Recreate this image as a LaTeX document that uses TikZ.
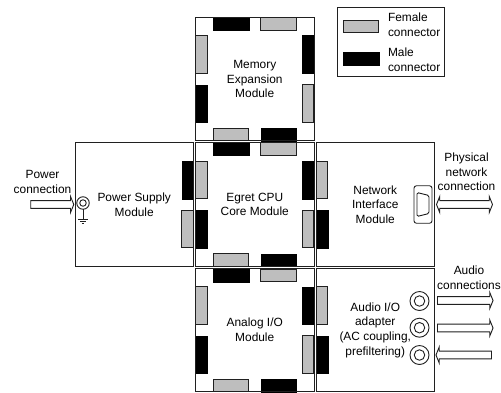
\documentclass[tikz,border=0pt]{standalone}
\usepackage{fontspec}
\setmainfont{Liberation Sans}
\usetikzlibrary{shapes.arrows}
\definecolor{femgray}{HTML}{BEBEBE}
\definecolor{edge}{HTML}{202020}
\tikzset{
  every node/.style={outer sep=0pt},
  txt/.style={align=center,inner sep=0pt,font=\fontsize{11.9}{14.7}\selectfont,text=black},
  ltxt/.style={txt,align=left,anchor=west},
  module/.style={draw=edge,line width=1pt,minimum width=118.5pt,minimum height=123.5pt,inner sep=0pt},
  fem/.style={draw=edge,line width=.8pt,fill=femgray,inner sep=0pt},
  mal/.style={draw=black,line width=.5pt,fill=black,inner sep=0pt},
  hc/.style={minimum width=35.5pt,minimum height=12.5pt},
  vc/.style={minimum width=11.5pt,minimum height=37.5pt},
  sarrow/.style={draw=edge,line width=.9pt,fill=white,single arrow,inner sep=3.4pt,
    single arrow head extend=4.2pt,single arrow tip angle=136,single arrow head indent=0pt,minimum height=#1},
  darrow/.style={draw=edge,line width=.9pt,fill=white,double arrow,inner sep=3.4pt,
    double arrow head extend=4.2pt,double arrow tip angle=136,double arrow head indent=0pt,minimum height=#1},
  ring/.style={draw=edge,line width=.9pt,circle,inner sep=0pt,minimum size=#1},
  lnk/.style={draw=edge,line width=.9pt}
}
\begin{document}
\begin{tikzpicture}[x=1pt,y=-1pt]
\useasboundingbox (0,0) rectangle (501,392);
\fill[white] (0,0) rectangle (501,392);
% legend
\node[draw=edge,line width=1pt,minimum width=106.5pt,minimum height=68.5pt,inner sep=0pt] (legend) at (390.75,41.75) {};
\node[fem,hc,minimum height=12pt] (legF) at (361,26) {};
\node[mal,hc,minimum height=13pt] (legM) at (361,59) {};
\node[ltxt] (legFt) at (388,24.5) {Female\\connector};
\node[ltxt] (legMt) at (388,59.5) {Male\\connector};
% memory connectors
\node[mal,hc] (m1) at (231,23.5) {};
\node[fem,hc] (m2) at (278.5,24) {};
\node[fem,vc] (m3) at (201.5,54.5) {};
\node[mal,vc] (m4) at (201.5,103.5) {};
\node[mal,vc] (m5) at (308,54) {};
\node[fem,vc] (m6) at (308,103.5) {};
\node[fem,hc] (m7) at (231,134.5) {};
\node[mal,hc] (m8) at (278.5,134.5) {};
% CPU connectors
\node[mal,hc] (c1) at (231,148.5) {};
\node[fem,hc] (c2) at (278.5,149) {};
\node[fem,vc] (c3) at (201.5,180) {};
\node[mal,vc] (c4) at (201.5,229) {};
\node[mal,vc] (c5) at (308,180) {};
\node[fem,vc] (c6) at (308,229) {};
\node[fem,hc] (c7) at (231,260) {};
\node[mal,hc] (c8) at (278.5,260) {};
% analog connectors
\node[mal,hc] (a1) at (231,275.5) {};
\node[fem,hc] (a2) at (278.5,275.5) {};
\node[fem,vc] (a3) at (201.5,305.5) {};
\node[mal,vc] (a4) at (201.5,354.5) {};
\node[mal,vc] (a5) at (308,305.5) {};
\node[fem,vc] (a6) at (308,354.5) {};
\node[fem,hc] (a7) at (231,385.5) {};
\node[mal,hc] (a8) at (278.5,385.5) {};
% power / network / audio connectors
\node[mal,vc] (p1) at (187.5,180) {};
\node[fem,vc] (p2) at (187.5,229) {};
\node[fem,vc] (n1) at (322,180) {};
\node[mal,vc] (n2) at (322,229) {};
\node[fem,vc] (u1) at (322,305.5) {};
\node[mal,vc] (u2) at (322,354.5) {};
% modules
\node[module,txt] (mem) at (254.75,79) {Memory\\Expansion\\Module};
\node[module,txt] (cpu) at (254.75,204.5) {Egret CPU\\Core Module};
\node[module,txt] (ana) at (254.75,330) {Analog I/O\\Module};
\node[module,txt] (psu) at (134.25,204.5) {Power Supply\\Module};
\node[module,txt] (net) at (375.25,204.5) {Network\\Interface\\Module};
\node[module,txt] (aud) at (375.25,330) {Audio I/O\\adapter\\(AC coupling,\\prefiltering)};
% power input
\node[txt] (plab) at (42.5,182) {Power\\connection};
\node[sarrow=43pt] (parr) at (51.5,204.5) {};
\node[ring=12.5pt] (pjack) at (83,203) {};
\node[ring=6.5pt] (pjin) at (83,203) {};
\coordinate (gnd) at (83,219);
\draw[lnk] (pjack.south) -- (gnd);
\draw[lnk] (78,219) -- (88,219);
\draw[lnk] (80,221.2) -- (86,221.2);
\draw[lnk] (81.8,223.2) -- (84.2,223.2);
% network connector
\node[draw=edge,line width=.9pt,rounded corners=2.5pt,minimum width=18pt,minimum height=37.5pt,inner sep=0pt] (db) at (423,204.5) {};
\draw[lnk,rounded corners=1.5pt] (417,192.5) -- (429,195.5) -- (429,213.5) -- (417,216.5) -- cycle;
\node[txt] (nlab) at (466.5,172) {Physical\\network\\connection};
\node[darrow=56pt] (narr) at (464.5,204.5) {};
% audio
\node[txt] (ulab) at (469,278) {Audio\\connections};
\foreach \n/\y in {1/301,2/327.7,3/355}{
  \node[ring=19pt] (jo\n) at (419.5,\y) {};
  \node[ring=10.5pt] (ji\n) at (419.5,\y) {};
}
\node[sarrow=55.5pt] (uarr1) at (464.5,300.5) {};
\node[sarrow=55.5pt] (uarr2) at (464.5,328) {};
\node[sarrow=55.5pt,shape border rotate=180] (uarr3) at (464.5,355) {};
\end{tikzpicture}
\end{document}
